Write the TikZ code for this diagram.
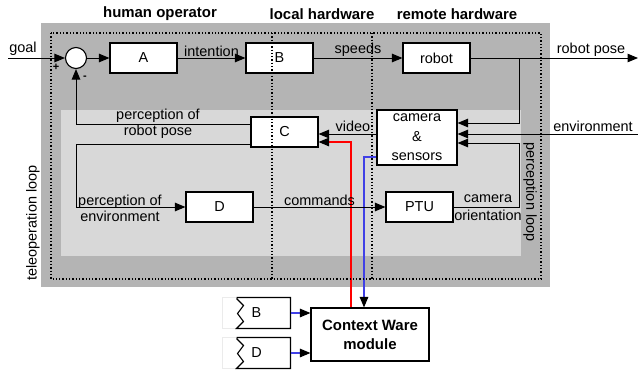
\documentclass[tikz,border=0pt]{standalone}
\usepackage{fontspec}
\setmainfont{Liberation Sans}
\usetikzlibrary{arrows.meta}
\definecolor{dgray}{RGB}{180,180,180}
\definecolor{lgray}{RGB}{216,216,216}
\definecolor{cblue}{RGB}{64,64,230}
\tikzset{
  ctxfig/.style={x=1bp,y=-1bp,font=\fontsize{14.5}{16}\selectfont,line width=1bp,
    >={Triangle[length=10.5bp,width=8.5bp]}},
  blk/.style={draw,fill=white,line width=1.1bp,minimum width=67bp,minimum height=30bp,inner sep=0pt},
  inbox/.style={minimum width=67bp,minimum height=30bp,inner sep=0pt},
  hdr/.style={font=\fontsize{15}{17}\selectfont\bfseries},
  lbl/.style={inner sep=1bp,align=center},
  loopdot/.style={line width=1.2bp,dash pattern=on 1.3bp off 2bp},
  blkarr/.style={line width=1.1bp,-{Triangle[length=10.5bp,width=8.5bp,color=black]}}
}

\begin{document}
\begin{tikzpicture}[ctxfig]
    \useasboundingbox (0,0) rectangle (638,369);
    \fill[dgray] (41,23) rectangle (550,287);
    \fill[lgray] (61,110) rectangle (521,256);
    % column headers
    \node[hdr] (hHum) at (160,14) {human operator};
    \node[hdr] (hLoc) at (322,14) {local hardware};
    \node[hdr] (hRem) at (457,14) {remote hardware};
    % blocks
    \node[draw,circle,fill=white,line width=1.1bp,minimum size=21bp,inner sep=0pt] (sum) at (76,58) {};
    \node[blk] (A) at (143.5,58) {A};
    \node[blk] (B) at (279.5,58) {B};
    \node[blk] (robot) at (436.5,58) {robot};
    \node[blk,minimum width=80bp,minimum height=55bp,align=center,
      font=\fontsize{14.5}{19.5}\selectfont] (cam) at (417,137.5) {camera\\\&\\sensors};
    \node[blk] (C) at (284.5,132) {C};
    \node[blk] (D) at (219.5,207) {D};
    \node[blk] (PTU) at (419.5,207) {PTU};
    \node[blk,minimum width=118bp,minimum height=53bp,align=center,
      font=\fontsize{15}{19}\selectfont\bfseries] (cw) at (370,334.5) {Context Ware\\module};
    \node[inbox] (inB) at (256.5,313) {B};
    \node[inbox] (inD) at (256.5,353) {D};
    \foreach \n in {inB,inD} {
      \draw[black!8,line width=0.6bp] (\n.north west) rectangle (\n.south east);
      \draw[line width=1.1bp] ([xshift=14bp]\n.north west) -- (\n.north east) -- (\n.south east)
        -- ([xshift=14bp]\n.south west) -- ++(7,-7) -- ++(-6,-8) -- ++(6,-8) -- ++(-7,-7);
    }
    \coordinate (goalin) at (8,58);
    \coordinate (poseout) at (638,58);
    \coordinate (envin) at (638,134);
    \coordinate (brA) at (519,58);
    \coordinate (brB) at (519,143);
    % forward path
    \draw[->] (goalin) -- (sum.west);
    \node[lbl] (tGoal) at (23,49) {goal};
    \node[font=\fontsize{11}{12}\selectfont\bfseries] (plus) at (56,67) {+};
    \node[font=\fontsize{11}{12}\selectfont\bfseries] (minus) at (85,78) {-};
    \draw[->] (sum) -- (A);
    \draw[->] (A) -- node[lbl,above] (tInt) {intention} (B);
    \draw[->] (B) -- node[lbl,above] (tSpd) {speeds} (robot);
    \draw[->] (robot) -- (poseout);
    \node[lbl] (tPose) at (591,50) {robot pose};
    % perception side
    \draw[->] (brA) |- (cam.east |- 0,123);
    \draw[->] (envin) -- (cam.east |- envin);
    \node[lbl] (tEnv) at (593,126) {environment};
    \draw[->] (PTU.east) -| (brB) -- (cam.east |- brB);
    \node[lbl,font=\fontsize{14.5}{18}\selectfont] (tOri) at (488,208) {camera\\orientation};
    \draw[->] (cam.west |- 0,134) -- (C.east |- 0,134);
    \node[lbl] (tVid) at (353,126) {video};
    \draw[red,blkarr] (cw.north -| 351,0) |- (C.east |- 0,142);
    \draw[cblue,blkarr] (cam.west |- 0,157) -| (cw.north -| 364,0);
    % operator feedback
    \draw[->] (C.west |- 0,124) -| (sum.south);
    \node[lbl] (tRob) at (158,124) {perception of\\robot pose};
    \draw[->] (C.west |- 0,144) -- (sum.south |- 0,144) |- (D.west);
    \node[lbl] (tPerc) at (120,208) {perception of\\environment};
    \draw[->] (D) -- node[lbl,above] (tCmd) {commands} (PTU);
    % context inputs
    \draw[cblue,blkarr] (inB) -- (cw.west |- inB);
    \draw[cblue,blkarr] (inD) -- (cw.west |- inD);
    % loops
    \draw[loopdot] (51,33) rectangle (541,279);
    \draw[loopdot] (272,33) -- (272,279);
    \draw[loopdot] (372,33) -- (372,279);
    \node[rotate=90] (tTele) at (33,223) {teleoperation loop};
    \node[rotate=-90] (tPloop) at (530,192) {perception loop};
\end{tikzpicture}
\end{document}
